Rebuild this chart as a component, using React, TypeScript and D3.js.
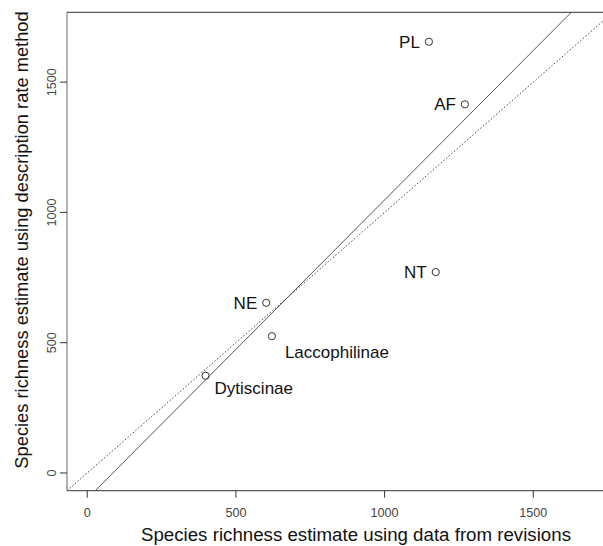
import React, { useRef, useEffect } from 'react'
import * as d3 from 'd3'

const width = 603
const height = 546
const margin = { top: 12.3, right: -10, bottom: 55.3, left: 67 }

// estimates per group
const groups = ['PL', 'AF', 'NT', 'NE', 'Laccophilinae', 'Dytiscinae']
const revisionEstimate = [1149, 1270, 1172, 602, 621, 398]
const descriptionEstimate = [1655, 1415, 771, 653, 525, 373]

const xTicks = [0, 500, 1000, 1500]
const yTicks = [0, 500, 1000, 1500]
const axisLimits = [0, 1700]

// fitted line (solid); dotted one is y = x
const fitIntercept = -99
const fitSlope = 1.147

const xTitle = 'Species richness estimate using data from revisions'
const yTitle = 'Species richness estimate using description rate method'

const font = "'Liberation Sans', Arial, sans-serif"
const tickFont = "'Liberation Sans Narrow', 'Liberation Sans', Arial, sans-serif"

// where each label sits relative to its point
const labelPlace = {
  PL: 'left',
  AF: 'left',
  NT: 'left',
  NE: 'left',
  Laccophilinae: 'below',
  Dytiscinae: 'below'
}

const App = () => {
  const svgRef = useRef(null)

  useEffect(() => {
    const svg = d3.select(svgRef.current)
    svg.selectAll('*').remove()

    const pad = (axisLimits[1] - axisLimits[0]) * 0.04
    const domain = [axisLimits[0] - pad, axisLimits[1] + pad]
    const x0 = margin.left
    const x1 = width - margin.right
    const yBottom = height - margin.bottom
    const yTop = margin.top

    const x = d3.scaleLinear().domain(domain).range([x0, x1])
    const y = d3.scaleLinear().domain(domain).range([yBottom, yTop])

    const data = groups.map((g, i) => ({
      name: g,
      x: revisionEstimate[i],
      y: descriptionEstimate[i]
    }))

    svg
      .append('rect')
      .attr('width', width)
      .attr('height', height)
      .attr('fill', '#fff')

    svg
      .append('clipPath')
      .attr('id', 'plot-clip')
      .append('rect')
      .attr('x', x0)
      .attr('y', yTop)
      .attr('width', x1 - x0)
      .attr('height', yBottom - yTop)

    const lines = svg.append('g').attr('clip-path', 'url(#plot-clip)')
    const line = d3
      .line()
      .x(d => x(d[0]))
      .y(d => y(d[1]))

    lines
      .append('path')
      .attr('d', line([[domain[0], domain[0]], [domain[1], domain[1]]]))
      .attr('fill', 'none')
      .attr('stroke', '#444')
      .attr('stroke-width', 1)
      .attr('stroke-dasharray', '1.5,2')

    lines
      .append('path')
      .attr(
        'd',
        line(
          domain.map(v => [v, fitIntercept + fitSlope * v])
        )
      )
      .attr('fill', 'none')
      .attr('stroke', '#555')
      .attr('stroke-width', 1)

    // box: top, left, bottom (right side falls outside the page)
    const box = svg.append('g').attr('stroke', '#333').attr('stroke-width', 1)
    box.append('line').attr('x1', x0).attr('x2', x1).attr('y1', yTop).attr('y2', yTop)
    box.append('line').attr('x1', x0).attr('x2', x1).attr('y1', yBottom).attr('y2', yBottom)
    box.append('line').attr('x1', x0).attr('x2', x0).attr('y1', yTop).attr('y2', yBottom).attr('stroke', '#666')

    // x axis
    const xAxis = svg.append('g')
    xAxis
      .selectAll('line')
      .data(xTicks)
      .join('line')
      .attr('x1', d => x(d))
      .attr('x2', d => x(d))
      .attr('y1', yBottom)
      .attr('y2', yBottom + 7)
      .attr('stroke', '#333')
    xAxis
      .selectAll('text')
      .data(xTicks)
      .join('text')
      .attr('x', d => x(d))
      .attr('y', yBottom + 26.5)
      .attr('text-anchor', 'middle')
      .attr('font-family', tickFont)
      .attr('font-size', 12.6)
      .attr('fill', '#444')
      .text(d => d)

    // y axis
    const yAxis = svg.append('g')
    yAxis
      .selectAll('line')
      .data(yTicks)
      .join('line')
      .attr('x1', x0 - 7)
      .attr('x2', x0)
      .attr('y1', d => y(d))
      .attr('y2', d => y(d))
      .attr('stroke', '#333')
    yAxis
      .selectAll('text')
      .data(yTicks)
      .join('text')
      .attr('transform', d => `translate(${x0 - 11.5},${y(d)}) rotate(-90)`)
      .attr('text-anchor', 'middle')
      .attr('font-family', tickFont)
      .attr('font-size', 12.6)
      .attr('fill', '#444')
      .text(d => d)

    // points
    svg
      .append('g')
      .selectAll('circle')
      .data(data)
      .join('circle')
      .attr('cx', d => x(d.x))
      .attr('cy', d => y(d.y))
      .attr('r', 3.6)
      .attr('fill', 'none')
      .attr('stroke', '#333')
      .attr('stroke-width', 1)

    // point labels
    svg
      .append('g')
      .selectAll('text')
      .data(data)
      .join('text')
      .attr('x', d => (labelPlace[d.name] === 'left' ? x(d.x) - 9 : x(d.x) + (d.name === 'Dytiscinae' ? 9 : 13)))
      .attr('y', d => (labelPlace[d.name] === 'left' ? y(d.y) + 6 : y(d.y) + (d.name === 'Dytiscinae' ? 18.5 : 22)))
      .attr('text-anchor', d => (labelPlace[d.name] === 'left' ? 'end' : 'start'))
      .attr('font-family', font)
      .attr('font-size', 17)
      .attr('fill', '#111')
      .text(d => d.name)

    // axis titles
    svg
      .append('text')
      .attr('x', 356)
      .attr('y', 541)
      .attr('text-anchor', 'middle')
      .attr('font-family', font)
      .attr('font-size', 18.7)
      .attr('fill', '#111')
      .text(xTitle)

    svg
      .append('text')
      .attr('transform', `translate(28,${240}) rotate(-90)`)
      .attr('text-anchor', 'middle')
      .attr('font-family', font)
      .attr('font-size', 18.3)
      .attr('fill', '#111')
      .text(yTitle)
  }, [])

  return (
    <svg
      ref={svgRef}
      width={width}
      height={height}
      viewBox={`0,0,${width},${height}`}
      style={{ position: 'absolute', left: 0, top: 0, display: 'block' }}
    />
  )
}

export default App
